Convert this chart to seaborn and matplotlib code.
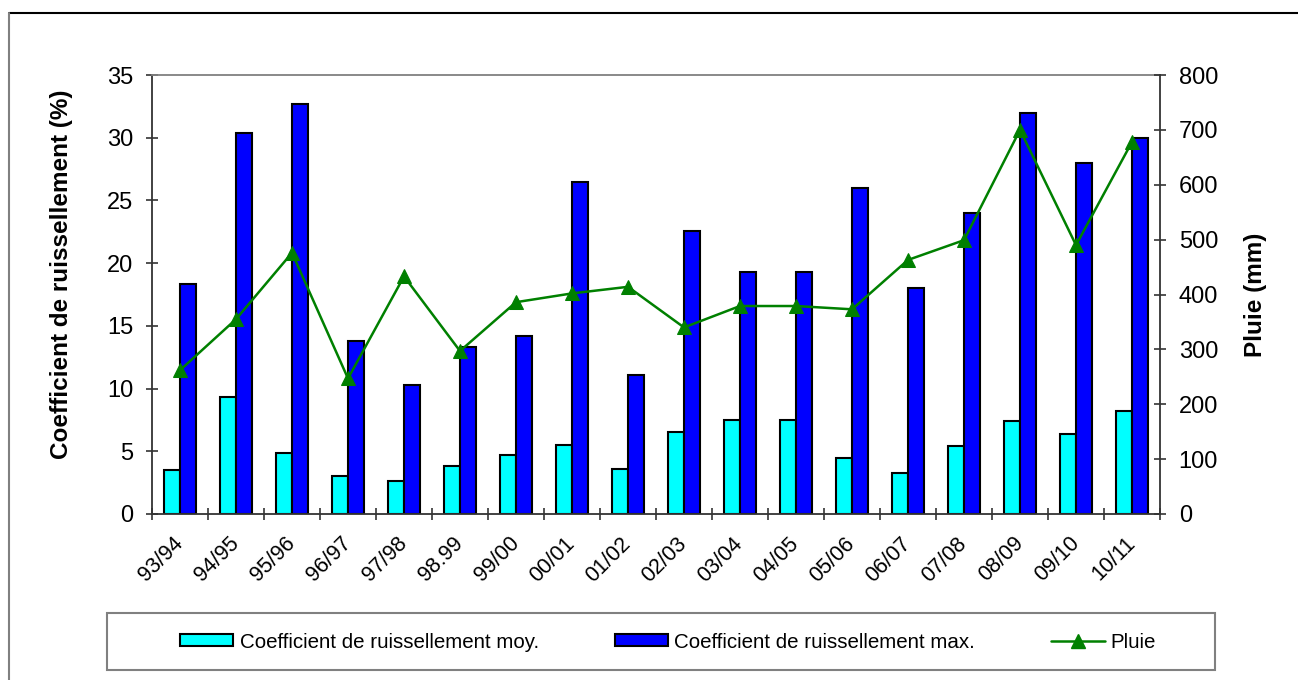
import numpy as np
import pandas as pd
import matplotlib
matplotlib.use("Agg")
import matplotlib.pyplot as plt
import seaborn as sns
from matplotlib.lines import Line2D
from matplotlib.patches import Rectangle, Patch

# values
saisons = ["93/94", "94/95", "95/96", "96/97", "97/98", "98.99", "99/00", "00/01", "01/02",
           "02/03", "03/04", "04/05", "05/06", "06/07", "07/08", "08/09", "09/10", "10/11"]
coef_moy = [3.5, 9.3, 4.9, 3.0, 2.6, 3.8, 4.7, 5.5, 3.6, 6.5, 7.5, 7.5, 4.5, 3.3, 5.4, 7.4, 6.4, 8.2]
coef_max = [18.3, 30.4, 32.7, 13.8, 10.3, 13.3, 14.2, 26.5, 11.1, 22.6, 19.3, 19.3, 26.0, 18.0, 24.0, 32.0, 28.0, 30.0]
pluie = [262, 355, 476, 247, 433, 297, 386, 402, 414, 340, 379, 379, 373, 463, 499, 700, 490, 678]

lab_moy = "Coefficient de ruissellement moy."
lab_max = "Coefficient de ruissellement max."
lab_pluie = "Pluie"

df = pd.DataFrame({
    "saison": saisons * 2,
    "coef": coef_moy + coef_max,
    "serie": [lab_moy] * len(saisons) + [lab_max] * len(saisons),
})

sns.set_style("white")
plt.rcParams["font.family"] = ["Liberation Sans", "DejaVu Sans"]
plt.rcParams["text.color"] = "black"
plt.rcParams["xtick.color"] = "black"
plt.rcParams["ytick.color"] = "black"
plt.rcParams["axes.labelcolor"] = "black"

fig = plt.figure(figsize=(12.98, 6.80), dpi=100)
ax1 = fig.add_axes([152 / 1298, 1 - 514 / 680, 1008 / 1298, 439 / 680])

sns.barplot(data=df, x="saison", y="coef", hue="serie", order=saisons,
            hue_order=[lab_moy, lab_max], palette=["#00FFFF", "#0000FF"],
            width=0.58, gap=0, edgecolor="black", linewidth=1.5,
            saturation=1, legend=False, ax=ax1)

ax2 = ax1.twinx()
sns.lineplot(x=np.arange(len(saisons)), y=pluie, ax=ax2, color="#008000",
             marker="^", markersize=10.5, markeredgecolor="#008000",
             linewidth=1.8, legend=False)

ax1.set_xlim(-0.5, len(saisons) - 0.5)
ax1.set_ylim(0, 35)
ax1.set_yticks(range(0, 36, 5))
ax2.set_ylim(0, 800)
ax2.set_yticks(range(0, 801, 100))

# spines
dark = "#333333"
for s in ["left", "bottom"]:
    ax1.spines[s].set_color(dark)
    ax1.spines[s].set_linewidth(1.3)
ax1.spines["top"].set_color("#808080")
ax1.spines["top"].set_linewidth(1.3)
ax1.spines["right"].set_visible(False)
for s in ["left", "top", "bottom"]:
    ax2.spines[s].set_visible(False)
ax2.spines["right"].set_visible(True)
ax2.spines["right"].set_color(dark)
ax2.spines["right"].set_linewidth(1.3)

# ticks
ax1.tick_params(axis="y", left=True, direction="inout", length=9, width=1.2,
                color=dark, labelcolor="black", labelsize=17, pad=9)
ax2.tick_params(axis="y", right=True, direction="inout", length=9, width=1.2,
                color=dark, labelcolor="black", labelsize=17, pad=9)
ax1.set_xticks(np.arange(len(saisons)))
ax1.set_xticks(np.arange(len(saisons) + 1) - 0.5, minor=True)
ax1.set_xticklabels(saisons, rotation=45, ha="right", va="center",
                    rotation_mode="anchor", fontsize=15.5)
ax1.tick_params(axis="x", which="major", bottom=True, length=0, pad=19, labelcolor="black")
ax1.tick_params(axis="x", which="minor", bottom=True, direction="inout",
                length=9, width=1.2, color=dark)

ax1.set_xlabel("")
ax1.set_ylabel("Coefficient de ruissellement (%)", fontsize=17.5, fontweight="bold")
ax1.yaxis.set_label_coords((73 - 152) / 1008, (514 - 274) / 439)
ax2.set_ylabel("Pluie (mm)", fontsize=17.5, fontweight="bold", rotation=90)
ax2.yaxis.set_label_coords((1244 - 152) / 1008, 0.5)

# legend box and entries
fig.add_artist(Rectangle((107 / 1298, 1 - 670 / 680), 1108 / 1298, 57 / 680,
                         transform=fig.transFigure, facecolor="none",
                         edgecolor="#808080", linewidth=1.5))
handles = [
    Patch(facecolor="#00FFFF", edgecolor="black", linewidth=1.5, label=lab_moy),
    Patch(facecolor="#0000FF", edgecolor="black", linewidth=1.5, label=lab_max),
    Line2D([], [], color="#008000", marker="^", markersize=10.5, linewidth=1.8, label=lab_pluie),
]
fig.legend(handles=handles, loc="center left", bbox_to_anchor=(180 / 1298, 1 - 642 / 680),
           ncol=3, frameon=False, fontsize=14.8, handlelength=2.6, handleheight=0.55,
           handletextpad=0.3, columnspacing=3.7, borderpad=0, borderaxespad=0)

# outer chart border (top and left visible)
fig.add_artist(Line2D([9 / 1298, 1], [1 - 13 / 680, 1 - 13 / 680],
                      transform=fig.transFigure, color="black", linewidth=1.5))
fig.add_artist(Line2D([9 / 1298, 9 / 1298], [0, 1 - 13 / 680],
                      transform=fig.transFigure, color="#808080", linewidth=1.5))

fig.savefig("out.png", dpi=100)
